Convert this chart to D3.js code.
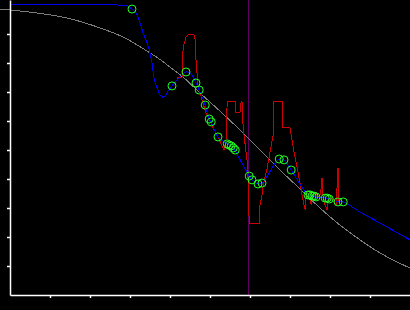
<!DOCTYPE html>
<html>
<head>
<meta charset="utf-8">
<script src="https://cdn.jsdelivr.net/npm/d3@7"></script>
<style>
  html, body { margin: 0; padding: 0; background: #000; }
  svg { display: block; }
  .trace { shape-rendering: crispEdges; }
</style>
</head>
<body>
<div id="chart"></div>
<script>
// reference curve (smooth gray)
const refX = [-0.25, 0, 0.58, 1.43, 2.25, 2.88, 3.38, 3.7, 4.0, 4.38, 4.7, 5.25, 5.75, 6.25, 6.75, 7.25, 7.75, 8.25, 8.75, 9.25, 9.63, 10]
const refY = [9.86, 9.83, 9.74, 9.55, 9.21, 8.86, 8.45, 8.17, 7.86, 7.45, 7.03, 6.34, 5.69, 5.0, 4.31, 3.66, 3.0, 2.41, 1.9, 1.45, 1.17, 0.93]

// fitted curve (blue)
const fitX = [0, 2.7, 2.75, 2.93, 3.05, 3.18, 3.25, 3.33, 3.43, 3.5, 3.55, 3.58, 3.63, 3.68, 3.75, 3.8, 3.88, 3.95, 4.05, 4.13, 4.25, 4.4, 4.53, 4.65, 4.73, 4.88, 4.98, 5.03, 5.2, 5.43, 5.53, 5.58, 5.63, 5.98, 6.05, 6.2, 6.3, 6.73, 6.85, 7.03, 7.45, 7.55, 7.65, 7.9, 7.98, 8.2, 8.33, 8.75, 9.25, 10]
const fitY = [10, 10, 9.97, 9.97, 9.86, 9.66, 9.38, 9.03, 8.69, 8.34, 8.0, 7.66, 7.31, 7.14, 6.9, 6.83, 6.86, 7.03, 7.21, 7.34, 7.52, 7.69, 7.62, 7.31, 7.07, 6.55, 6.07, 5.97, 5.45, 5.21, 5.14, 5.07, 4.97, 4.1, 3.97, 3.83, 3.86, 4.69, 4.66, 4.31, 3.45, 3.41, 3.38, 3.34, 3.31, 3.21, 3.21, 2.86, 2.48, 1.9]

// raw signal (red)
const rawX = [4.18, 4.3, 4.33, 4.38, 4.4, 4.45, 4.6, 4.63, 4.65, 4.68, 4.7, 4.75, 4.83, 4.9, 4.98, 5.08, 5.2, 5.3, 5.35, 5.4, 5.43, 5.63, 5.63, 5.75, 5.78, 5.8, 5.83, 5.88, 5.93, 5.95, 5.98, 6.23, 6.25, 6.3, 6.33, 6.43, 6.5, 6.58, 6.58, 6.8, 6.8, 7.0, 7.05, 7.1, 7.18, 7.25, 7.3, 7.35, 7.38, 7.4, 7.45, 7.5, 7.53, 7.58, 7.65, 7.7, 7.75, 7.78, 7.8, 7.83, 7.88, 7.93, 7.95, 8.0, 8.08, 8.15, 8.18, 8.2, 8.2, 8.25]
const rawY = [7.48, 7.52, 8.55, 8.79, 8.9, 8.97, 8.97, 8.79, 8.1, 7.59, 7.21, 6.97, 6.59, 6.28, 6.07, 5.76, 5.45, 5.14, 5.0, 5.34, 6.66, 6.66, 6.31, 6.31, 6.66, 6.66, 5.76, 5.17, 4.59, 4.03, 2.48, 2.48, 3.1, 3.45, 3.79, 4.38, 4.93, 5.52, 6.66, 6.66, 5.76, 5.76, 5.34, 4.93, 4.38, 3.86, 3.45, 3.1, 2.93, 3.34, 3.52, 3.28, 3.1, 3.45, 3.55, 3.34, 3.45, 3.69, 4.03, 3.28, 3.1, 2.93, 3.28, 3.34, 3.28, 3.1, 3.79, 4.38, 3.34, 3.17]

// measured points (green circles)
const ptX = [3.05, 4.05, 4.4, 4.65, 4.73, 4.88, 4.98, 5.03, 5.2, 5.43, 5.48, 5.53, 5.58, 5.63, 5.98, 6.05, 6.2, 6.3, 6.73, 6.85, 7.03, 7.45, 7.5, 7.55, 7.6, 7.65, 7.88, 7.93, 7.98, 8.2, 8.33]
const ptY = [9.86, 7.21, 7.69, 7.31, 7.07, 6.55, 6.07, 5.97, 5.45, 5.21, 5.17, 5.14, 5.07, 5.0, 4.1, 3.97, 3.83, 3.86, 4.69, 4.66, 4.31, 3.45, 3.45, 3.41, 3.41, 3.38, 3.34, 3.34, 3.31, 3.21, 3.21]

const markerX = 5.98
const tickVals = [1, 2, 3, 4, 5, 6, 7, 8, 9]

const width = 410
const height = 310
const margin = { top: 5, left: 10, bottom: 15, right: 0 }

const svg = d3.select('#chart')
  .append('svg')
  .attr('width', width)
  .attr('height', height)
  .style('background', '#000')

const x = d3.scaleLinear().domain([0, 10]).range([margin.left, width - margin.right])
const y = d3.scaleLinear().domain([0, 10]).range([height - margin.bottom, margin.top])
const yAxisScale = y.copy().domain([0, y.invert(0)]).range([height - margin.bottom, 0])

const zip = (xs, ys) => xs.map((v, i) => [v, ys[i]])
const line = d3.line().x(d => x(d[0])).y(d => y(d[1]))

// vertical marker
svg.append('line')
  .attr('x1', Math.round(x(markerX)) - 0.5).attr('x2', Math.round(x(markerX)) - 0.5)
  .attr('y1', yAxisScale.range()[1]).attr('y2', y(0))
  .attr('stroke', '#640064')
  .attr('stroke-width', 1)

svg.append('path')
  .datum(zip(refX, refY))
  .attr('class', 'trace')
  .attr('d', line.curve(d3.curveMonotoneX))
  .attr('fill', 'none')
  .attr('stroke', '#7c7c7c')
  .attr('stroke-width', 1)

svg.append('path')
  .datum(zip(rawX, rawY))
  .attr('class', 'trace')
  .attr('d', line.curve(d3.curveLinear))
  .attr('fill', 'none')
  .attr('stroke', '#cc0000')
  .attr('stroke-width', 1)

svg.append('path')
  .datum(zip(fitX, fitY))
  .attr('class', 'trace')
  .attr('d', line.curve(d3.curveCatmullRom))
  .attr('fill', 'none')
  .attr('stroke', '#0000f0')
  .attr('stroke-width', 1)

svg.append('g')
  .selectAll('circle')
  .data(zip(ptX, ptY))
  .join('circle')
  .attr('cx', d => x(d[0]))
  .attr('cy', d => y(d[1]))
  .attr('r', 4)
  .attr('fill', 'none')
  .attr('stroke', '#22ff22')
  .attr('stroke-width', 1)

const xAxis = d3.axisBottom(x).tickValues(tickVals).tickFormat('').tickSizeInner(3).tickSizeOuter(0)
const yAxis = d3.axisLeft(yAxisScale).tickValues(tickVals).tickFormat('').tickSizeInner(3).tickSizeOuter(0)

svg.append('g')
  .attr('transform', 'translate(0,' + y(0) + ')')
  .call(xAxis)
  .call(g => g.selectAll('path, line').attr('stroke', '#fff').attr('stroke-width', 1.5))

svg.append('g')
  .attr('transform', 'translate(' + x(0) + ',0)')
  .call(yAxis)
  .call(g => g.selectAll('path, line').attr('stroke', '#fff').attr('stroke-width', 1.5))
</script>
</body>
</html>
